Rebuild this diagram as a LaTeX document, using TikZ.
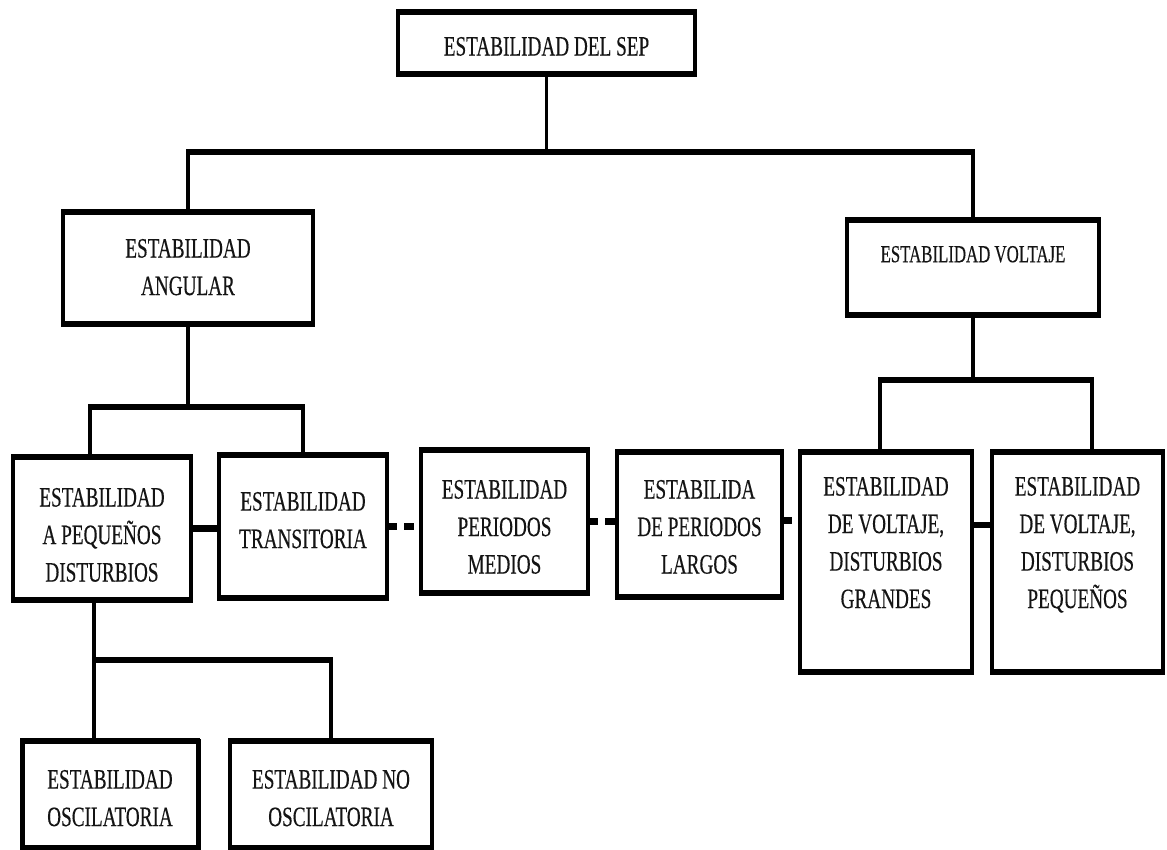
\documentclass[tikz,border=0pt]{standalone}
\usepackage{fontspec}
\setmainfont{Liberation Serif}[FakeStretch=0.686, FakeBold=0.3]

% box node: name, centre, width, height, top padding, text
\newcommand{\stabbox}[7][]{%
  \node[box,#1] (#2) at (#3)
    {\parbox[c][#5pt][t]{#4pt}{\vspace*{#6pt}\centering #7\par}};}

\tikzset{
  box/.style={draw=black, line width=3.5pt, fill=white, inner sep=0pt,
    outer sep=0pt, text=black!92, font=\fontsize{28}{37.5}\selectfont},
  rim/.style={line width=6.5pt, shorten <=-1.75pt, shorten >=-1.75pt},
  link/.style={line width=3.5pt},
  bus/.style={line width=6pt, shorten <=-1.75pt, shorten >=-1.75pt},
  dlink/.style={line width=7pt, dash pattern=on 10pt off 7pt},
  slink/.style={line width=6.5pt},
}

\begin{document}
\begin{tikzpicture}[x=1pt,y=-1pt]
\useasboundingbox (0,0) rectangle (1167,850);

% boxes
\stabbox{sep}{546.5,43}{297}{62}{25}{ESTABILIDAD DEL SEP}
\stabbox{ang}{188,268}{250}{112}{27}{ESTABILIDAD\\ANGULAR}
\stabbox[font=\fontsize{24.5}{33}\selectfont]{volt}{973,267.5}{252}{95}{26}{ESTABILIDAD VOLTAJE}
\stabbox[line width=4.5pt]{peq}{102,528.5}{178}{143}{31}{ESTABILIDAD\\A PEQUEÑOS\\DISTURBIOS}
\stabbox{tra}{303,526.5}{168}{143}{37}{ESTABILIDAD\\TRANSITORIA}
\stabbox{med}{504.5,521.5}{167}{143}{30}{ESTABILIDAD\\PERIODOS\\MEDIOS}
\stabbox{lar}{699.5,524.5}{165}{145}{28}{ESTABILIDA\\DE PERIODOS\\LARGOS}
\stabbox{gra}{886,562}{172}{220}{25}{ESTABILIDAD\\DE VOLTAJE,\\DISTURBIOS\\GRANDES}
\stabbox{vpq}{1077.5,562}{171}{220}{25}{ESTABILIDAD\\DE VOLTAJE,\\DISTURBIOS\\PEQUEÑOS}
\stabbox[line width=5pt]{osc}{110,794.5}{176}{107}{29}{ESTABILIDAD\\OSCILATORIA}
\stabbox{nosc}{331,794.5}{202}{107}{29}{ESTABILIDAD NO\\OSCILATORIA}

% heavy top and bottom rims of every box
\foreach \n in {sep,ang,volt,peq,tra,med,lar,gra,vpq,osc,nosc}{
  \draw[rim] (\n.north west) -- (\n.north east);
  \draw[rim] (\n.south west) -- (\n.south east);
}

% bus levels
\coordinate (busA) at (0,152);
\coordinate (busB) at (0,407);
\coordinate (busC) at (0,660);
\coordinate (busD) at (0,380);

% entry points that sit off the box centres
\coordinate (peqT) at ([xshift=-12pt]peq.north);
\coordinate (peqB) at ([xshift=-8pt]peq.south);
\coordinate (oscT) at ([xshift=-16pt]osc.north);
\coordinate (graT) at ([xshift=-6pt]gra.north);
\coordinate (vpqT) at ([xshift=14.5pt]vpq.north);
\coordinate (larR) at ([yshift=4.5pt]lar.east);
\coordinate (graR) at ([yshift=37pt]gra.east);
\coordinate (vpqL) at ([yshift=37pt]vpq.west);

% first level
\draw[link] (sep.south) -- (sep.south |- busA);
\draw[link] (ang.north |- busA) -- (ang.north);
\draw[link] (volt.north |- busA) -- (volt.north);
\draw[bus] (ang.north |- busA) -- (volt.north |- busA);

% angular branch
\draw[link] (ang.south) -- (ang.south |- busB);
\draw[link] (peqT |- busB) -- (peqT);
\draw[link] (tra.north |- busB) -- (tra.north);
\draw[bus] (peqT |- busB) -- (tra.north |- busB);

% small-disturbance branch
\draw[link] (peqB) -- (peqB |- busC);
\draw[link] (oscT |- busC) -- (oscT);
\draw[link] (nosc.north |- busC) -- (nosc.north);
\draw[bus] (oscT |- busC) -- (nosc.north |- busC);

% voltage branch
\draw[link] (volt.south) -- (volt.south |- busD);
\draw[link] (graT |- busD) -- (graT);
\draw[link] (vpqT |- busD) -- (vpqT);
\draw[bus] (graT |- busD) -- (vpqT |- busD);

% horizontal links in the middle row
\draw[slink] (peq.east) -- (tra.west |- peq.east);
\draw[dlink] (tra.east) -- (med.west |- tra.east);
\draw[dlink] (med.east) -- (lar.west |- med.east);
\draw[dlink] (larR) -- (gra.west |- larR);
\draw[slink] (graR) -- (vpqL);
\end{tikzpicture}
\end{document}
